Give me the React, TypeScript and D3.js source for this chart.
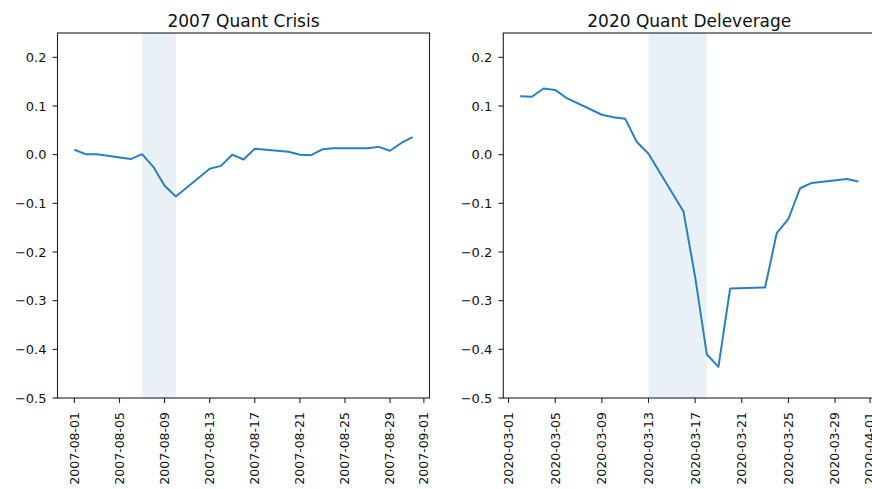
import React from "react";
import * as d3 from "d3";

const dates2007 = ["2007-08-01","2007-08-02","2007-08-03","2007-08-06","2007-08-07","2007-08-08","2007-08-09","2007-08-10","2007-08-13","2007-08-14","2007-08-15","2007-08-16","2007-08-17","2007-08-20","2007-08-21","2007-08-22","2007-08-23","2007-08-24","2007-08-27","2007-08-28","2007-08-29","2007-08-30","2007-08-31"];
const values2007 = [0.010,0.001,0.001,-0.009,0.001,-0.025,-0.064,-0.086,-0.029,-0.023,0.000,-0.010,0.012,0.006,0.000,-0.001,0.011,0.013,0.013,0.016,0.008,0.024,0.036];
const shade2007 = ["2007-08-07","2007-08-10"];
const ticks2007 = ["2007-08-01","2007-08-05","2007-08-09","2007-08-13","2007-08-17","2007-08-21","2007-08-25","2007-08-29","2007-09-01"];

const dates2020 = ["2020-03-02","2020-03-03","2020-03-04","2020-03-05","2020-03-06","2020-03-09","2020-03-10","2020-03-11","2020-03-12","2020-03-13","2020-03-16","2020-03-17","2020-03-18","2020-03-19","2020-03-20","2020-03-23","2020-03-24","2020-03-25","2020-03-26","2020-03-27","2020-03-30","2020-03-31"];
const values2020 = [0.120,0.119,0.136,0.133,0.116,0.082,0.077,0.074,0.026,0.002,-0.117,-0.251,-0.410,-0.436,-0.275,-0.273,-0.161,-0.132,-0.069,-0.058,-0.050,-0.055];
const shade2020 = ["2020-03-13","2020-03-18"];
const ticks2020 = ["2020-03-01","2020-03-05","2020-03-09","2020-03-13","2020-03-17","2020-03-21","2020-03-25","2020-03-29","2020-04-01"];

const yTicks = [0.2, 0.1, 0.0, -0.1, -0.2, -0.3, -0.4, -0.5];
const titles = ["2007 Quant Crisis", "2020 Quant Deleverage"];

const FONT = "DejaVu Sans, sans-serif";
const parse = (s: string) => new Date(s + "T00:00:00Z");

type PanelProps = {
  left: number; title: string; dates: string[]; values: number[]; shade: string[]; ticks: string[];
};

const TOP = 33, BOTTOM = 398, WIDTH = 372;

function Panel({ left, title, dates, values, shade, ticks }: PanelProps) {
  const ds = dates.map(parse);
  const [d0, d1] = d3.extent(ds) as [Date, Date];
  const pad = (d1.getTime() - d0.getTime()) * 0.05;
  const x = d3.scaleUtc().domain([new Date(d0.getTime() - pad), new Date(d1.getTime() + pad)]).range([left, left + WIDTH]);
  const y = d3.scaleLinear().domain([-0.5, 0.25]).range([BOTTOM, TOP]);
  const line = d3.line<number>().x((_, i) => x(ds[i])).y((v) => y(v));
  const fmt = (v: number) => (v < 0 ? "\u2212" : "") + Math.abs(v).toFixed(1);
  const s0 = x(parse(shade[0])), s1 = x(parse(shade[1]));
  return (
    <g>
      <defs>
        <clipPath id={"clip" + left}>
          <rect x={left} y={TOP} width={WIDTH} height={BOTTOM - TOP} />
        </clipPath>
      </defs>
      <rect x={s0} y={TOP} width={s1 - s0} height={BOTTOM - TOP} fill="#1f77b4" fillOpacity={0.1} />
      <path d={line(values) || ""} fill="none" stroke="#2a80bd" strokeWidth={2} strokeLinejoin="round" clipPath={`url(#clip${left})`} />
      <rect x={left} y={TOP} width={WIDTH} height={BOTTOM - TOP} fill="none" stroke="#222" strokeWidth={1.1} />
      {yTicks.map((t) => (
        <g key={t}>
          <line x1={left - 4.9} x2={left} y1={y(t)} y2={y(t)} stroke="#222" strokeWidth={1.1} />
          <text x={left - 11} y={y(t)} dy="0.35em" textAnchor="end" fontSize={13} fontFamily={FONT} fill="#111">{fmt(t)}</text>
        </g>
      ))}
      {ticks.map((t) => {
        const xx = x(parse(t));
        return (
          <g key={t}>
            <line x1={xx} x2={xx} y1={BOTTOM} y2={BOTTOM + 4.9} stroke="#222" strokeWidth={1.1} />
            <text transform={`translate(${xx},${BOTTOM + 14}) rotate(-90)`} dy="0.35em" textAnchor="end" fontSize={12.5} fontFamily={FONT} fill="#111">{t}</text>
          </g>
        );
      })}
      <text x={left + WIDTH / 2} y={27} textAnchor="middle" fontSize={17} fontFamily={FONT} fill="#111">{title}</text>
    </g>
  );
}

export default function App() {
  return (
    <div style={{ position: "fixed", left: 0, top: 0 }}>
      <svg width={872} height={489} style={{ display: "block", background: "#fff" }}>
        <Panel left={57.5} title={titles[0]} dates={dates2007} values={values2007} shade={shade2007} ticks={ticks2007} />
        <Panel left={503.3} title={titles[1]} dates={dates2020} values={values2020} shade={shade2020} ticks={ticks2020} />
      </svg>
    </div>
  );
}
